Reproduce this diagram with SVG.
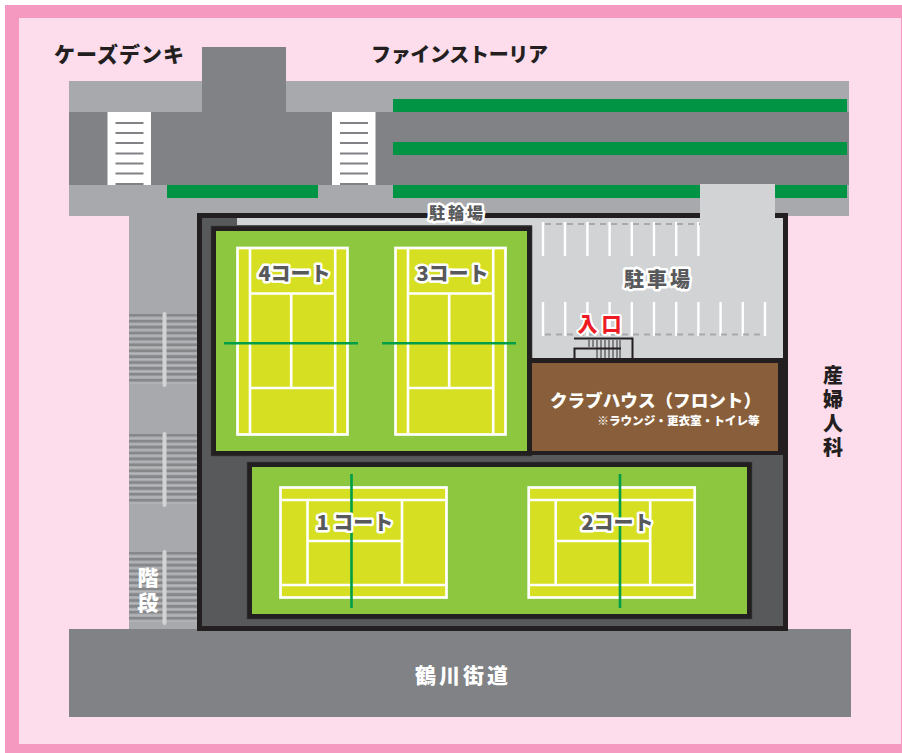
<svg xmlns="http://www.w3.org/2000/svg" width="902" height="753" viewBox="0 0 902 753">
<style>
text{font-family:"Noto Sans CJK JP","Noto Sans CJK SC",sans-serif;font-weight:900}
.lg{fill:#a7a9ac}.dg{fill:#808285}.gr{fill:#009444}.pl{fill:#d1d3d4}
.hl{fill:#58595b;stroke:#fff;stroke-width:5;stroke-linejoin:round;paint-order:stroke}
.wl{stroke:#fff;stroke-width:2.6;fill:none}
.court{fill:#d7df23;stroke:#fff;stroke-width:2.7}
.net{stroke:#009e49;stroke-width:2.6;fill:none}
.bk{fill:#231f20;stroke:#414042;stroke-width:.6}
.xw{stroke:#808285;stroke-width:2;fill:none}
.st{stroke:#858789;stroke-width:2.6;fill:none}
.sh{stroke:#b4b6b8;stroke-width:1.2;fill:none}
.pk{stroke:#fff;stroke-width:2.4;fill:none}
.ds{stroke:#a7a9ac;stroke-width:1.8;stroke-dasharray:6 5;fill:none}
.rail{stroke:#d1d3d4;stroke-width:4;stroke-linecap:round;fill:none}
.ink{fill:#231f20}
.wt{fill:#fff}
.vt{writing-mode:vertical-rl;text-anchor:start}
</style>
<defs>
<g id="stair">
<rect x="129" y="0" width="68" height="71" fill="#a7a9ac"/>
<path class="st" d="M129 1.300H197M129 7.200H197M129 13.100H197M129 19H197M129 24.900H197M129 30.800H197M129 36.700H197M129 42.600H197M129 48.500H197M129 54.400H197M129 60.300H197M129 66.200H197"/>
<path class="sh" d="M129 4.200H197M129 10.100H197M129 16H197M129 21.900H197M129 27.800H197M129 33.700H197M129 39.600H197M129 45.500H197M129 51.400H197M129 57.300H197M129 63.200H197M129 69.100H197"/>
<path class="rail" d="M164.500 0V71"/>
</g>
<g id="xwalk">
<rect x="0" y="112" width="43.500" height="73" fill="#fff"/>
<path class="xw" d="M8 123H36M8 133H36M8 143H36M8 153.500H36M8 163.500H36M8 173.500H36M8 184H36"/>
</g>
<g id="vcourt">
<rect class="court" x="0" y="0" width="110" height="186.500"/>
<path class="wl" d="M12.500 0V186.500M97.700 0V186.500M12.500 45.500H97.700M12.500 140H97.700M53.700 45.500V140"/>
</g>
<g id="hcourt">
<rect class="court" x="0" y="0" width="166" height="110"/>
<path class="wl" d="M0 12.500H166M0 97.500H166M27 12.500V97.500M121.500 12.500V97.500M27 53.500H121.500"/>
</g>
</defs>
<rect width="902" height="753" fill="#fff"/>
<rect x="5" y="5" width="897" height="748" fill="#f599c0"/>
<rect x="19" y="18" width="882" height="726" fill="#fddcec"/>
<g id="roads">
<rect class="lg" x="69" y="81" width="780" height="135"/>
<rect class="lg" x="129" y="216" width="68" height="413"/>
<rect class="dg" x="69" y="112" width="780" height="73"/>
<rect class="dg" x="202" y="47" width="84" height="65"/>
<rect class="gr" x="393" y="99" width="454" height="13"/>
<rect class="gr" x="393" y="142" width="454" height="13"/>
<rect class="gr" x="393" y="185" width="454" height="13"/>
<rect class="gr" x="167" y="185" width="151" height="13"/>
<use href="#xwalk" x="107.500"/>
<use href="#xwalk" x="332"/>
</g>
<g id="stairs-left">
<use href="#stair" y="314"/>
<use href="#stair" y="434"/>
<use href="#stair" y="552"/>
</g>
<g id="road-south"><rect class="dg" x="69" y="629" width="782" height="88"/><text class="wt" x="463" y="683" font-size="21" text-anchor="middle" letter-spacing="3">鶴川街道</text></g>
<g id="site">
<rect x="199.500" y="215.500" width="586" height="413" fill="#58595b" stroke="#231f20" stroke-width="5"/>
<rect class="pl" x="237" y="218" width="546" height="7"/>
<rect class="pl" x="532" y="218" width="251" height="140"/>
<rect class="pl" x="700" y="184" width="75" height="36"/>
</g>
<g id="parking">
<path class="pk" d="M543 222V256M565 222V256M587.400 222V256M609.600 222V256M631.800 222V256M654 222V256M676.200 222V256M698.400 222V256"/>
<path class="ds" d="M545 224H700"/>
<path class="pk" d="M543 302V336M565.200 302V336M587.400 302V336M609.600 302V336M631.800 302V336M654 302V336M676.200 302V336M698.400 302V336M720.600 302V336M742.800 302V336M765 302V336"/>
<path class="ds" d="M545 334.500H765"/>
<text class="hl" x="658.500" y="287" font-size="20" text-anchor="middle" letter-spacing="3">駐車場</text>
</g>
<g id="bicycle"><text class="hl" x="457.500" y="219" font-size="16" text-anchor="middle" letter-spacing="3">駐輪場</text></g>
<g id="entrance">
<path d="M589 340V347M593 340V347M597 340V358M601 340V358M605 340V358M609 340V358M613 340V358M617 340V358M620 340V358" stroke="#808285" stroke-width="2" fill="none"/>
<path d="M574 338.500H632.500V358M621 348.500H574.500V358" stroke="#231f20" stroke-width="2" fill="none"/>
<text x="601.500" y="332" font-size="20" text-anchor="middle" letter-spacing="4" fill="#ed1c24" stroke="#fff" stroke-width="4" stroke-linejoin="round" paint-order="stroke">入口</text>
</g>
<g id="courts-north">
<rect class="bk" x="211" y="226" width="321" height="230"/>
<rect x="216" y="231" width="311" height="220" fill="#8dc63f"/>
<use href="#vcourt" x="237.500" y="248"/>
<use href="#vcourt" x="395.500" y="248"/>
<path class="net" d="M224 343.300H358M382 343.300H516"/>
<text class="hl" x="294.500" y="281" font-size="20" text-anchor="middle">4コート</text>
<text class="hl" x="452.500" y="281" font-size="20" text-anchor="middle">3コート</text>
</g>
<g id="clubhouse">
<rect x="527" y="358" width="256" height="97" fill="#231f20"/>
<rect x="532" y="363" width="246" height="88" fill="#895f3b"/>
<text class="wt" x="655.500" y="406.500" font-size="17.600" text-anchor="middle">クラブハウス（フロント）</text>
<text class="wt" x="678.500" y="424.500" font-size="11.600" text-anchor="middle">※ラウンジ・更衣室・トイレ等</text>
</g>
<g id="courts-south">
<rect class="bk" x="247" y="462" width="505" height="157"/>
<rect x="252" y="467" width="495" height="147" fill="#8dc63f"/>
<use href="#hcourt" x="280.500" y="487.500"/>
<use href="#hcourt" x="528.700" y="487.500"/>
<path class="net" d="M351.500 474V608M620 474V608"/>
<text class="hl" x="355" y="530" font-size="20" text-anchor="middle" xml:space="preserve">1 コート</text>
<text class="hl" x="617.500" y="530" font-size="20" text-anchor="middle">2コート</text>
</g>
<g id="labels">
<text class="ink" x="54" y="62" font-size="21" textLength="130">ケーズデンキ</text>
<text class="ink" x="371" y="62" font-size="20" textLength="177">ファインストーリア</text>
<text class="ink vt" x="833" y="365" font-size="20" letter-spacing="4.300">産婦人科</text>
<text class="wt vt" x="148" y="567" font-size="21" letter-spacing="4">階段</text>
</g>
</svg>
